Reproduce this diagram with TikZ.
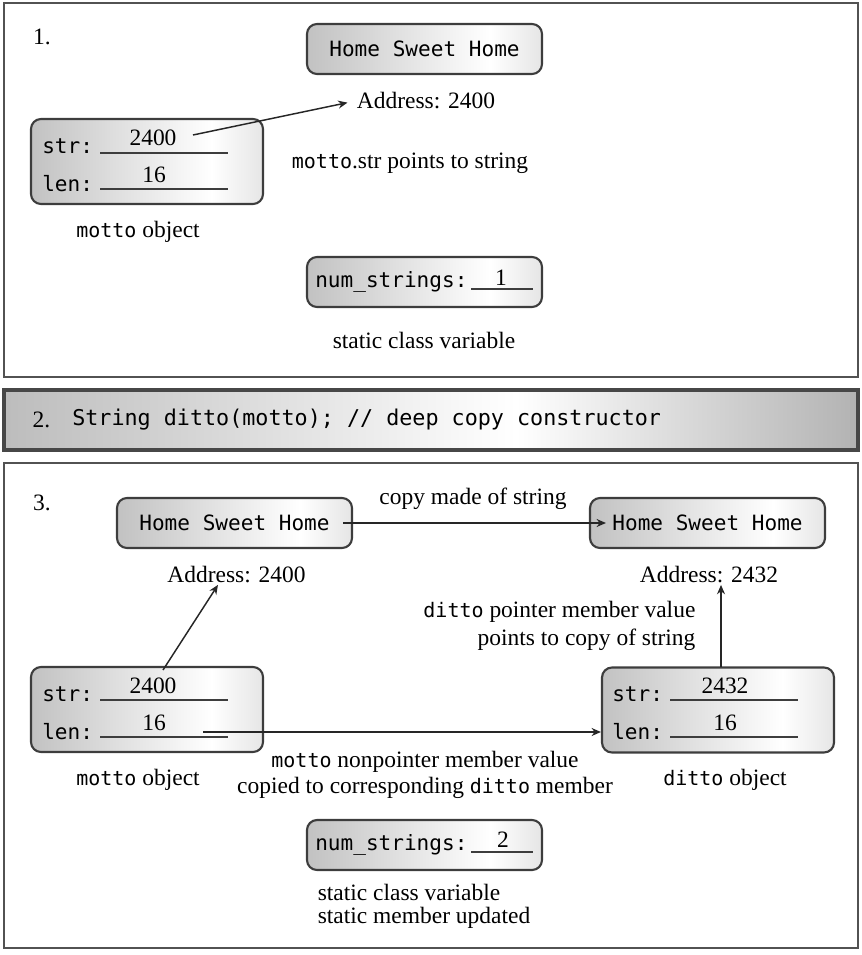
\documentclass[tikz,border=0pt]{standalone}
\usepackage{fontspec}
\setmainfont{Liberation Serif}
\setmonofont{DejaVu Sans Mono}
\usetikzlibrary{calc}
\usetikzlibrary{arrows.meta}
\usetikzlibrary{positioning}

% Shadings of the boxes and of the step bar
\pgfdeclarehorizontalshading{boxfade}{100bp}{color(0bp)=(black!24); color(25bp)=(black!24); color(64bp)=(white); color(75bp)=(black!10); color(100bp)=(black!10)}
\pgfdeclarehorizontalshading{barfade}{100bp}{color(0bp)=(black!26); color(25bp)=(black!26); color(55bp)=(white); color(75bp)=(black!30); color(100bp)=(black!30)}

\colorlet{framegray}{black!68}
\colorlet{linegray}{black!76}

\newcommand{\serifsize}{\fontsize{17.6}{21}\selectfont}
\newcommand{\boxcode}{\fontsize{15.8}{19}\selectfont\ttfamily}
\newcommand{\labelcode}{\fontsize{15}{18}\selectfont\ttfamily}
\newcommand{\barcode}{\fontsize{16.3}{19}\selectfont\ttfamily}

\tikzset{
    strbox/.style={draw=linegray, line width=1.6pt, rounded corners=7.5pt, shade, shading=boxfade, minimum width=176.25pt, minimum height=37.5pt, inner sep=0pt, font=\boxcode},
    objbox/.style={strbox, minimum width=174pt, minimum height=63.75pt},
    panel/.style={draw=framegray, line width=1.9pt},
    stepbar/.style={draw=black!72, line width=2.4pt, shade, shading=barfade},
    lbl/.style={font=\serifsize, inner sep=1pt},
    field/.style={font=\boxcode, anchor=west, inner sep=0pt},
    blank/.style={draw=linegray, line width=1.5pt},
    arr/.style={-{Stealth[length=7pt, width=6pt]}, line width=1.1pt, black!85},
}

\begin{document}
\begin{tikzpicture}[x=0.75pt, y=-0.75pt]
    % Page
    \useasboundingbox (0,0) rectangle (861,955);

    % ---- Panel 1 ----
    \draw [panel] (4,3) rectangle (858,377);
    \node [lbl] (step1) at (42,37) {1.};

    % String in memory
    \node [strbox] (hsh1) at (424.5,49) {Home Sweet Home};
    \node [lbl] (addr1) at (426,101) {Address: 2400};

    % motto object
    \node [objbox] (motto1) at (147,161.5) {};
    \node [field] (str1) at (42,146) {str:};
    \node [field] (len1) at (42,184) {len:};
    \draw [blank] (100,153) -- (228,153);
    \draw [blank] (100,189) -- (228,189);
    \node [lbl] (str1val) at (153,138) {2400};
    \node [lbl] (len1val) at (154,175) {16};
    \node [lbl] (motto1name) at (138,232) {{\labelcode motto} object};

    % pointer
    \coordinate (str1tail) at (193,135);
    \draw [arr, shorten >=6pt] (str1tail) -- (addr1.west);
    \node [lbl] (ptrnote1) at (410,163) {{\labelcode motto}.str points to string};

    % static member
    \node [strbox] (num1) at (424.5,282) {};
    \node [field] (numlbl1) at (315,282) {num\_strings:};
    \draw [blank] (471,289) -- (533,289);
    \node [lbl] (num1val) at (501,278) {1};
    \node [lbl] (static1) at (424,340) {static class variable};

    % ---- Panel 2 ----
    \draw [stepbar] (4,390) rectangle (858,450);
    \node [lbl, anchor=west] (step2) at (31,420) {2.};
    \node [font=\barcode, anchor=west, inner sep=0pt] (ctor) at (72,420) {String ditto(motto); // deep copy constructor};

    % ---- Panel 3 ----
    \draw [panel] (4,463) rectangle (858,948);
    \node [lbl] (step3) at (42,503) {3.};

    % Original string and its copy
    \node [strbox] (hsh2) at (234.5,523) {Home Sweet Home};
    \node [strbox] (hsh3) at (707.5,523) {Home Sweet Home};
    \draw [arr, shorten <=-7.5pt, shorten >=-12.75pt] (hsh2.east) -- (hsh3.west);
    \node [lbl] (copynote) at (473,499) {copy made of string};
    \node [lbl] (addr2) at (236.5,575) {Address: 2400};
    \node [lbl] (addr3) at (709,575) {Address: 2432};

    % motto object
    \node [objbox] (motto3) at (147,709.5) {};
    \node [field] (str3) at (42,694) {str:};
    \node [field] (len3) at (42,732) {len:};
    \draw [blank] (100,700) -- (228,700);
    \draw [blank] (100,737) -- (228,737);
    \node [lbl] (str3val) at (153,686) {2400};
    \node [lbl] (len3val) at (154,723) {16};
    \node [lbl] (motto3name) at (138,780) {{\labelcode motto} object};

    % ditto object
    \node [objbox] (ditto) at (718,710) {};
    \node [field] (str4) at (612,694) {str:};
    \node [field] (len4) at (612,732) {len:};
    \draw [blank] (670,700) -- (798,700);
    \draw [blank] (670,737) -- (798,737);
    \node [lbl] (str4val) at (725,686) {2432};
    \node [lbl] (len4val) at (725,723) {16};
    \node [lbl] (ditto3name) at (725,780) {{\labelcode ditto} object};

    % pointers
    \coordinate (str3tail) at (163,670);
    \draw [arr] (str3tail) -- ([xshift=-13.9pt]addr2.south);
    \coordinate (str4tail) at (721,667);
    \draw [arr] (str4tail) -- (str4tail |- addr3.south);
    \node [lbl, anchor=east, align=right] (ptrnote3) at (697,626) {{\labelcode ditto} pointer member value\\points to copy of string};

    % nonpointer member
    \coordinate (len3tail) at (203,732);
    \draw [arr] (len3tail) -- (len3tail -| ditto.west);
    \node [lbl, font=\fontsize{17.6}{19.5}\selectfont, align=center] (copynote3) at (425,775) {{\labelcode motto} nonpointer member value\\copied to corresponding {\labelcode ditto} member};

    % static member
    \node [strbox] (num3) at (424.5,845) {};
    \node [field] (numlbl3) at (315,845) {num\_strings:};
    \draw [blank] (471,852) -- (533,852);
    \node [lbl] (num3val) at (503,840) {2};
    \node [lbl, font=\fontsize{17.6}{17.25}\selectfont, align=left] (static3) at (424,906) {static class variable\\static member updated};

\end{tikzpicture}
\end{document}
